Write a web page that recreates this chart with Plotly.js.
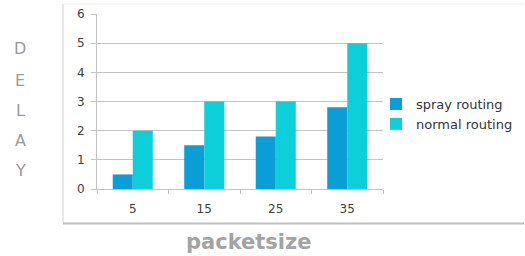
<!DOCTYPE html>
<html><head><meta charset="utf-8">
<script src="https://cdn.plot.ly/plotly-3.0.1.min.js"></script>
<style>html,body{margin:0;padding:0;background:#fff}#chart{width:525px;height:256px}</style>
</head><body><div id="chart"></div>
<script>
const categories = ['5', '15', '25', '35'];
const sprayRouting = [0.5, 1.5, 1.8, 2.8];
const normalRouting = [2, 3, 3, 5];
const seriesNames = ['spray routing', 'normal routing'];
const yTicks = [0, 1, 2, 3, 4, 5, 6];
const yTitle = 'DELAY';
const xTitle = 'packetsize';

const gridCol = '#c4c4c4';
const font = 'DejaVu Sans, Verdana, sans-serif';

const traces = [
  {type: 'bar', name: seriesNames[0], x: categories, y: sprayRouting,
   marker: {color: '#0a9ed6'}},
  {type: 'bar', name: seriesNames[1], x: categories, y: normalRouting,
   marker: {color: '#0dcfd9'}}
];

const letterYs = [48, 80, 110, 140, 170];
const annotations = yTitle.split('').map((ch, i) => ({
  text: ch, xref: 'paper', yref: 'paper', x: (20 - 97) / 286, y: (189 - letterYs[i]) / 175,
  xanchor: 'center', yanchor: 'middle', showarrow: false,
  font: {family: font, size: 16, color: '#9a9a9a'}
}));
annotations.push({
  text: '<b>' + xTitle + '</b>', xref: 'paper', yref: 'paper',
  x: (249 - 97) / 286, y: (189 - 242) / 175, xanchor: 'center', yanchor: 'middle',
  showarrow: false, font: {family: font, size: 21, color: '#a3a3a3'}
});

const layout = {
  width: 525, height: 256,
  margin: {l: 97, r: 142, t: 14, b: 67, autoexpand: false},
  paper_bgcolor: '#fff', plot_bgcolor: '#fff',
  barmode: 'group', bargap: 0.44, bargroupgap: 0,
  font: {family: font, size: 12, color: '#404040'},
  xaxis: {type: 'category', showgrid: false, showline: true, linecolor: gridCol, linewidth: 1,
    ticks: 'outside', tickson: 'boundaries', ticklen: 4, tickcolor: gridCol,
    tickfont: {family: font, size: 12, color: '#404040'}, ticklabelstandoff: 9},
  yaxis: {range: [0, 6], tickvals: yTicks, showgrid: true, gridcolor: gridCol, gridwidth: 1,
    showline: true, linecolor: gridCol, linewidth: 1, zeroline: false,
    ticks: 'outside', ticklen: 5, tickcolor: gridCol,
    tickfont: {family: font, size: 12, color: '#404040'}, ticklabelstandoff: 4},
  legend: {xref: 'container', yref: 'container', x: 376 / 525, y: (256 - 89) / 256,
    xanchor: 'left', yanchor: 'top',
    font: {family: font, size: 13, color: '#333'}, bgcolor: 'rgba(0,0,0,0)',
    tracegroupgap: 0, itemwidth: 30},
  annotations: annotations,
  shapes: [
    {type: 'line', xref: 'paper', yref: 'paper', x0: (63 - 97) / 286, x1: (63 - 97) / 286,
     y0: (189 - 4) / 175, y1: (189 - 223) / 175, line: {color: '#d0d0d0', width: 1}},
    {type: 'line', xref: 'paper', yref: 'paper', x0: (63 - 97) / 286, x1: (524 - 97) / 286,
     y0: (189 - 223.5) / 175, y1: (189 - 223.5) / 175, line: {color: '#c0c0c0', width: 2}},
    {type: 'line', xref: 'paper', yref: 'paper', x0: (63 - 97) / 286, x1: (524 - 97) / 286,
     y0: (189 - 4) / 175, y1: (189 - 4) / 175, line: {color: '#f0f0f0', width: 1}}
  ],
  showlegend: true
};

Plotly.newPlot('chart', traces, layout, {staticPlot: true, displayModeBar: false});
</script></body></html>
